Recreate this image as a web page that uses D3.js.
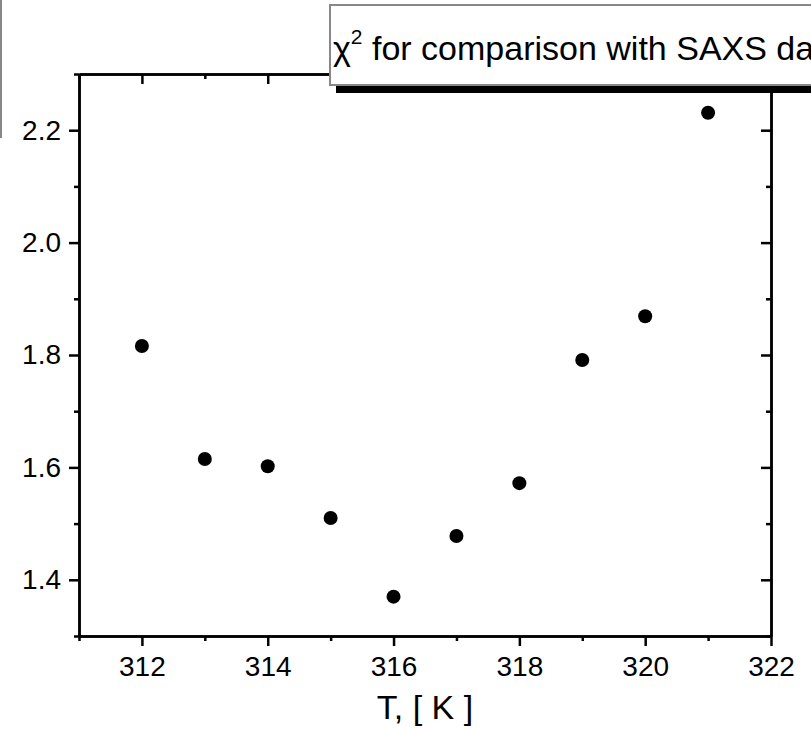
<!DOCTYPE html>
<html>
<head>
<meta charset="utf-8">
<script src="https://cdn.jsdelivr.net/npm/d3@7"></script>
<style>
  body { margin: 0; background: #fff; }
  svg text { font-family: "Liberation Sans", Arial, sans-serif; fill: #000; }
</style>
</head>
<body>
<div id="chart"></div>
<script>
// data
var temps = [312, 313, 314, 315, 316, 317, 318, 319, 320, 321];
var chi2 = [1.816, 1.615, 1.602, 1.510, 1.370, 1.478, 1.572, 1.791, 1.869, 2.231];

var xMajor = [312, 314, 316, 318, 320, 322];
var xMinor = [311, 313, 315, 317, 319, 321];
var yMajor = [1.4, 1.6, 1.8, 2.0, 2.2];
var yMinor = [1.3, 1.5, 1.7, 1.9, 2.1, 2.3];

var legendText = " for comparison with SAXS data";

// set the dimensions and margins of the graph
var margin = {top: 74, right: 40, bottom: 93, left: 79},
  width = 771 - margin.left,
  height = 636 - margin.top;

var svg = d3.select("#chart")
.append("svg")
  .attr("width", 811)
  .attr("height", 729);

var g = svg.append("g")
  .attr("transform", "translate(" + margin.left + "," + margin.top + ")");

var x = d3.scaleLinear()
  .domain([311, 322])
  .range([0, width]);

var y = d3.scaleLinear()
  .domain([1.3, 2.3])
  .range([height, 0]);

// helper to style an axis group
function styleAxis(sel) {
  sel.selectAll("path.domain").attr("stroke", "#000").attr("stroke-width", 2.5);
  sel.selectAll(".tick line").attr("stroke", "#000").attr("stroke-width", 2.5);
  sel.selectAll("text").style("font-size", "28px").attr("fill", "#000");
}

// bottom axis
g.append("g")
  .attr("transform", "translate(0," + height + ")")
  .call(d3.axisBottom(x).tickValues(xMinor).tickSize(5).tickSizeOuter(0).tickFormat(""))
  .call(styleAxis);
g.append("g")
  .attr("transform", "translate(0," + height + ")")
  .call(d3.axisBottom(x).tickValues(xMajor).tickSize(10).tickSizeOuter(0).tickPadding(10).tickFormat(d3.format("d")))
  .call(styleAxis);

// top axis, ticks inward
g.append("g")
  .call(d3.axisTop(x).tickValues(xMinor).tickSize(-5).tickSizeOuter(0).tickFormat(""))
  .call(styleAxis);
g.append("g")
  .call(d3.axisTop(x).tickValues(xMajor).tickSize(-10).tickSizeOuter(0).tickFormat(""))
  .call(styleAxis);

// left axis
g.append("g")
  .call(d3.axisLeft(y).tickValues(yMinor).tickSize(5).tickSizeOuter(0).tickFormat(""))
  .call(styleAxis);
g.append("g")
  .call(d3.axisLeft(y).tickValues(yMajor).tickSize(10).tickSizeOuter(0).tickPadding(8).tickFormat(d3.format(".1f")))
  .call(styleAxis);

// right axis, ticks inward
g.append("g")
  .attr("transform", "translate(" + width + ",0)")
  .call(d3.axisRight(y).tickValues(yMinor).tickSize(-5).tickSizeOuter(0).tickFormat(""))
  .call(styleAxis);
g.append("g")
  .attr("transform", "translate(" + width + ",0)")
  .call(d3.axisRight(y).tickValues(yMajor).tickSize(-10).tickSizeOuter(0).tickFormat(""))
  .call(styleAxis);

// points
g.selectAll("circle")
  .data(temps)
  .enter()
  .append("circle")
  .attr("cx", function(d) { return x(d); })
  .attr("cy", function(d, i) { return y(chi2[i]); })
  .attr("r", 7)
  .attr("fill", "#000");

// x axis title
svg.append("text")
  .attr("x", margin.left + width / 2)
  .attr("y", 719)
  .attr("text-anchor", "middle")
  .style("font-size", "34px")
  .text("T, [ K ]");

// gray frame line at top left (edge of another box)
svg.append("line")
  .attr("x1", 1).attr("x2", 1)
  .attr("y1", 0).attr("y2", 138)
  .attr("stroke", "#888")
  .attr("stroke-width", 2);

// legend box with shadow, runs off the right edge
svg.append("rect")
  .attr("x", 336).attr("y", 12)
  .attr("width", 500).attr("height", 81)
  .attr("fill", "#000");
svg.append("rect")
  .attr("x", 330).attr("y", 5)
  .attr("width", 500).attr("height", 80)
  .attr("fill", "#fff")
  .attr("stroke", "#888")
  .attr("stroke-width", 2);

var leg = svg.append("text")
  .attr("x", 333)
  .attr("y", 60)
  .style("font-size", "34px");
leg.append("tspan").text("\u03c7");
leg.append("tspan").attr("dy", -16).style("font-size", "21px").text("2");
leg.append("tspan").attr("dy", 16).text(legendText);
</script>
</body>
</html>
